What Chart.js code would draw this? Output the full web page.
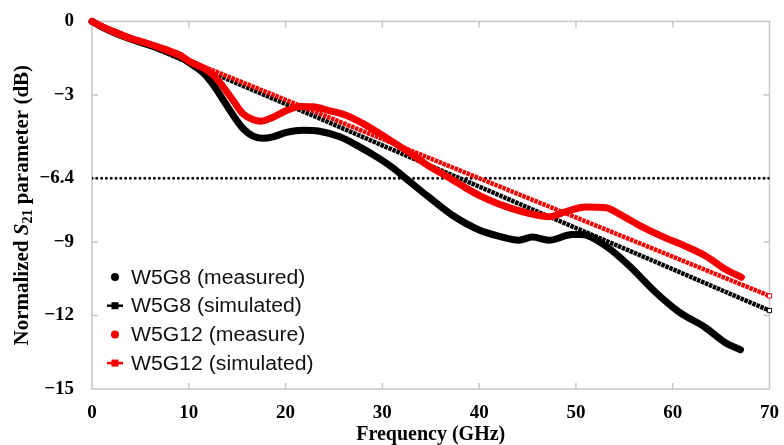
<!DOCTYPE html>
<html>
<head>
<meta charset="utf-8">
<script src="https://cdn.jsdelivr.net/npm/chart.js@4.4.1/dist/chart.umd.min.js"></script>
<style>
  html, body { margin: 0; padding: 0; background: #fff; }
  #wrap { width: 784px; height: 445px; }
</style>
</head>
<body>
<div id="wrap"><canvas id="s21Chart"></canvas></div>
<script>
// W5G8 measured
const freqG8Meas = [0, 1, 2.2, 3.9, 5.6, 7.4, 9.1, 10.1, 11.5, 12.5, 13.5, 14.6, 15.6, 16.6, 17.6, 18.7, 20.1, 21.8, 23.5, 25.6, 27.6, 29.7, 31, 32.4, 34.8, 37.2, 40, 42.1, 44.1, 45.5, 47.2, 49.6, 50.6, 53.1, 55.5, 58.2, 60.6, 63.4, 65.4, 67];
const s21G8Meas = [0, -0.22, -0.44, -0.71, -0.93, -1.17, -1.44, -1.7, -2.1, -2.57, -3.17, -3.84, -4.37, -4.67, -4.77, -4.71, -4.53, -4.44, -4.48, -4.71, -5.11, -5.6, -5.95, -6.4, -7.17, -7.9, -8.51, -8.77, -8.93, -8.8, -8.93, -8.7, -8.7, -9.17, -9.97, -11.04, -11.84, -12.5, -13.1, -13.4];

// W5G12 measured
const freqG12Meas = [0, 1, 2.2, 3.9, 5.6, 7.4, 9.1, 10.1, 11.5, 12.5, 13.5, 14.6, 15.6, 16.6, 17.5, 18.7, 20.1, 21.4, 22.8, 24.5, 26.3, 28, 29.7, 31.4, 33.1, 34.8, 36.6, 38.3, 40, 41.7, 43.4, 45.2, 47.2, 48.9, 51, 53.1, 54.4, 56.5, 58.9, 61.3, 63.4, 65.4, 67.1];
const s21G12Meas = [0, -0.2, -0.42, -0.68, -0.88, -1.12, -1.38, -1.64, -1.9, -2.17, -2.64, -3.24, -3.77, -4.0, -4.07, -3.91, -3.64, -3.47, -3.48, -3.64, -3.84, -4.17, -4.57, -5.0, -5.44, -5.9, -6.31, -6.72, -7.1, -7.4, -7.64, -7.84, -7.97, -7.77, -7.57, -7.6, -7.84, -8.31, -8.77, -9.17, -9.57, -10.1, -10.44];

// simulated (both)
const freqSim = [0, 5, 10, 15, 20, 25, 30, 35, 40, 45, 50, 55, 60, 65, 70];
const s21G8Sim = [0, -0.84, -1.69, -2.53, -3.37, -4.21, -5.06, -5.9, -6.74, -7.59, -8.43, -9.27, -10.11, -10.96, -11.8];
const s21G12Sim = [0, -0.8, -1.6, -2.4, -3.2, -4.0, -4.8, -5.6, -6.4, -7.2, -8.0, -8.8, -9.6, -10.4, -11.2];

const xTicks = [0, 10, 20, 30, 40, 50, 60, 70];
const yTicks = [0, -3, -6.4, -9, -12, -15];
const refLevel = -6.4;

const pts = (xs, ys) => xs.map((x, i) => ({ x: x, y: ys[i] }));
const serif = '"Liberation Serif", "Times New Roman", serif';
const sans = '"Liberation Sans", Arial, sans-serif';

// open square only on the last point of the simulated lines
const lastOnly = r => ctx => ctx.dataIndex === ctx.dataset.data.length - 1 ? r : 0;

const datasets = [
  {
    label: 'W5G8 (measured)', kind: 'meas',
    data: pts(freqG8Meas, s21G8Meas),
    borderColor: '#000', borderWidth: 7, borderCapStyle: 'round', borderJoinStyle: 'round',
    cubicInterpolationMode: 'monotone', pointRadius: 0, clip: false, order: 4
  },
  {
    label: 'W5G8 (simulated)', kind: 'sim',
    data: pts(freqSim, s21G8Sim),
    borderColor: '#000', borderWidth: 4.5, borderDash: [3.5, 0.8],
    pointStyle: 'rect', pointRadius: lastOnly(3), pointBackgroundColor: '#fff',
    pointBorderColor: '#000', pointBorderWidth: 1, clip: false, order: 3
  },
  {
    label: 'W5G12 (measure)', kind: 'meas',
    data: pts(freqG12Meas, s21G12Meas),
    borderColor: '#f50000', borderWidth: 7, borderCapStyle: 'round', borderJoinStyle: 'round',
    cubicInterpolationMode: 'monotone', pointRadius: 0, clip: false, order: 2
  },
  {
    label: 'W5G12 (simulated)', kind: 'sim',
    data: pts(freqSim, s21G12Sim),
    borderColor: '#f50000', borderWidth: 4.5, borderDash: [3.5, 0.8],
    pointStyle: 'rect', pointRadius: lastOnly(3), pointBackgroundColor: '#fff',
    pointBorderColor: '#f50000', pointBorderWidth: 1, clip: false, order: 1
  },
  {
    label: 'ref', kind: 'ref',
    data: pts([0, 70], [refLevel, refLevel]),
    borderColor: '#000', borderWidth: 3, borderDash: [0, 4.8], borderCapStyle: 'round',
    pointRadius: 0, order: 5
  }
];

// frame + inward tick marks
const framePlugin = {
  id: 'frame',
  beforeDatasetsDraw(chart) {
    const { ctx, chartArea: a, scales } = chart;
    ctx.save();
    ctx.strokeStyle = '#c6c6c6';
    ctx.lineWidth = 1.5;
    ctx.strokeRect(a.left, a.top, a.right - a.left, a.bottom - a.top);
    ctx.beginPath();
    xTicks.slice(1, -1).forEach(v => {
      const px = scales.x.getPixelForValue(v);
      ctx.moveTo(px, a.bottom); ctx.lineTo(px, a.bottom - 6);
      ctx.moveTo(px, a.top); ctx.lineTo(px, a.top + 6);
    });
    yTicks.slice(1, -1).forEach(v => {
      const py = scales.y.getPixelForValue(v);
      ctx.moveTo(a.left, py); ctx.lineTo(a.left + 6, py);
      ctx.moveTo(a.right, py); ctx.lineTo(a.right - 6, py);
    });
    ctx.stroke();
    ctx.restore();
  }
};

// y title with italic S and subscript 21
const yTitlePlugin = {
  id: 'yTitle',
  afterDraw(chart) {
    const { ctx, chartArea: a } = chart;
    const parts = [
      { t: 'Normalized ', f: 'bold 21px ' + serif, dy: 0 },
      { t: 'S', f: 'italic bold 21px ' + serif, dy: 0 },
      { t: '21', f: 'bold 14px ' + serif, dy: 5 },
      { t: ' parameter (dB)', f: 'bold 21px ' + serif, dy: 0 }
    ];
    ctx.save();
    let total = 0;
    parts.forEach(p => { ctx.font = p.f; p.w = ctx.measureText(p.t).width; total += p.w; });
    ctx.translate(23, (a.top + a.bottom) / 2);
    ctx.rotate(-Math.PI / 2);
    ctx.fillStyle = '#000';
    ctx.textBaseline = 'middle';
    let x = -total / 2;
    parts.forEach(p => { ctx.font = p.f; ctx.fillText(p.t, x, p.dy); x += p.w; });
    ctx.restore();
  }
};

// legend inside the plot, lower left
const legendPlugin = {
  id: 'insideLegend',
  afterDraw(chart) {
    const { ctx } = chart;
    const items = chart.data.datasets.filter(d => d.kind !== 'ref');
    ctx.save();
    ctx.font = '20px ' + sans;
    ctx.textBaseline = 'middle';
    items.forEach((d, i) => {
      const y = 277 + i * 28.7;
      const cx = 115;
      ctx.fillStyle = d.borderColor;
      ctx.strokeStyle = d.borderColor;
      if (d.kind === 'meas') {
        ctx.beginPath();
        ctx.arc(cx, y, 4, 0, Math.PI * 2);
        ctx.fill();
      } else {
        ctx.lineWidth = 2.5;
        ctx.beginPath();
        ctx.moveTo(cx - 8, y); ctx.lineTo(cx + 8, y);
        ctx.stroke();
        ctx.fillRect(cx - 3.5, y - 3.5, 7, 7);
      }
      ctx.fillStyle = '#111';
      ctx.save();
      ctx.translate(131, y + 1);
      ctx.scale(1.06, 1);
      ctx.fillText(d.label, 0, 0);
      ctx.restore();
    });
    ctx.restore();
  }
};

new Chart(document.getElementById('s21Chart'), {
  type: 'line',
  data: { datasets: datasets },
  options: {
    responsive: true,
    maintainAspectRatio: false,
    animation: false,
    layout: { padding: { top: 14, right: 13, left: 0, bottom: 0 } },
    plugins: { legend: { display: false }, tooltip: { enabled: false } },
    scales: {
      x: {
        type: 'linear', min: 0, max: 70,
        afterBuildTicks: s => { s.ticks = xTicks.map(v => ({ value: v })); },
        afterFit: s => { s.height = 56; },
        grid: { display: false }, border: { display: false },
        ticks: { padding: 5, color: '#000', font: { family: serif, weight: 'bold', size: 19 } },
        title: {
          display: true, text: 'Frequency (GHz)', color: '#000',
          font: { family: serif, weight: 'bold', size: 20 }, padding: { top: 0, bottom: -2 }
        }
      },
      y: {
        type: 'linear', min: -15, max: 0,
        afterBuildTicks: s => { s.ticks = yTicks.map(v => ({ value: v })); },
        afterFit: s => { s.width = 92; },
        grid: { display: false }, border: { display: false },
        ticks: {
          padding: 10, color: '#000', font: { family: serif, weight: 'bold', size: 19 },
          callback: v => v === 0 ? '0' : '\u2212' + Math.abs(v)
        }
      }
    }
  },
  plugins: [framePlugin, yTitlePlugin, legendPlugin]
});
</script>
</body>
</html>
